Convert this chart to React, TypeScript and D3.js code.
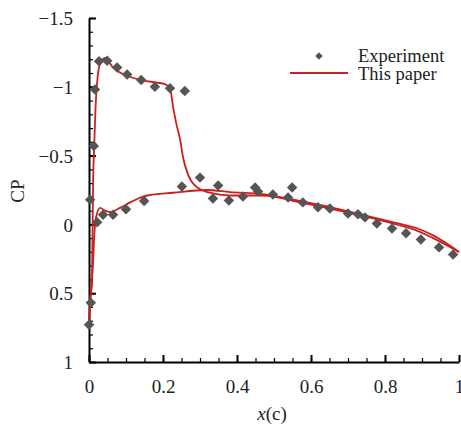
import React, { useEffect, useRef } from 'react';
import * as d3 from 'd3';

const width = 461;
const height = 426;
const margins = { top: 18, right: 2, bottom: 64, left: 89 };

// experiment points [x/c, Cp]
const experiment: [number, number][] = [
  [0.0, 0.73], [0.005, 0.57], [0.003, -0.18], [0.013, -0.57], [0.016, -0.98],
  [0.027, -1.185], [0.049, -1.19], [0.076, -1.14], [0.103, -1.09], [0.141, -1.05],
  [0.178, -1.0], [0.219, -0.99], [0.259, -0.97],
  [0.022, -0.015], [0.038, -0.07], [0.065, -0.07], [0.1, -0.11], [0.149, -0.17],
  [0.251, -0.276], [0.3, -0.34], [0.349, -0.283], [0.335, -0.189], [0.378, -0.174],
  [0.416, -0.203], [0.449, -0.269], [0.457, -0.24], [0.497, -0.218], [0.549, -0.269],
  [0.538, -0.196], [0.578, -0.16], [0.619, -0.124], [0.651, -0.116], [0.7, -0.08],
  [0.727, -0.073], [0.746, -0.051], [0.778, -0.007], [0.819, 0.029], [0.857, 0.065],
  [0.897, 0.109], [0.946, 0.167], [0.984, 0.218]
];

// computed upper surface
const upperX = [0, 0.003, 0.008, 0.011, 0.014, 0.019, 0.03, 0.043, 0.065, 0.103, 0.138, 0.184, 0.205, 0.219, 0.227, 0.237, 0.246, 0.254, 0.268, 0.292, 0.335, 0.381, 0.47, 0.57, 0.66, 0.751, 0.841, 0.886, 0.93, 1];
const upperCp = [0.72, 0.55, 0.43, -0.3, -0.56, -0.92, -1.17, -1.21, -1.14, -1.08, -1.05, -1.03, -1.02, -0.99, -0.86, -0.72, -0.62, -0.49, -0.36, -0.27, -0.225, -0.21, -0.21, -0.16, -0.11, -0.055, 0.008, 0.045, 0.1, 0.2];

// computed lower surface
const lowerX = [0, 0.005, 0.011, 0.014, 0.019, 0.03, 0.043, 0.057, 0.084, 0.111, 0.135, 0.157, 0.227, 0.319, 0.381, 0.47, 0.57, 0.66, 0.751, 0.841, 0.886, 0.93, 1];
const lowerCp = [0.72, 0.5, 0.28, 0.09, -0.05, -0.12, -0.1, -0.09, -0.12, -0.16, -0.19, -0.21, -0.23, -0.25, -0.235, -0.22, -0.17, -0.12, -0.062, -0.004, 0.028, 0.08, 0.2];

const xTicks = [0, 0.2, 0.4, 0.6, 0.8, 1];
const yTicks = [-1.5, -1, -0.5, 0, 0.5, 1];

const legendLabels = ['Experiment', 'This paper'];

const font = '"Liberation Serif", "Times New Roman", serif';
const red = '#cc1f1f';
const grey = '#555555';

export default function App() {
  const ref = useRef<SVGSVGElement>(null);

  useEffect(() => {
    const svg = d3.select(ref.current);
    svg.selectAll('*').remove();

    const x = d3.scaleLinear().domain([0, 1]).range([margins.left, width - margins.right]);
    const y = d3.scaleLinear().domain([-1.5, 1]).range([margins.top, height - margins.bottom]);

    const fmt = (d: d3.NumberValue) => String(d).replace('-', '\u2212');

    // minor ticks
    svg.append('g')
      .attr('transform', `translate(0,${y(1)})`)
      .call(d3.axisBottom(x).tickValues(d3.range(0, 21).map(i => i * 0.05)).tickSize(-4).tickFormat(() => ''))
      .call(g => g.select('.domain').remove())
      .selectAll('line').attr('stroke-width', 1.2);
    svg.append('g')
      .attr('transform', `translate(${x(0)},0)`)
      .call(d3.axisLeft(y).tickValues(d3.range(0, 26).map(i => -1.5 + i * 0.1)).tickSize(-4).tickFormat(() => ''))
      .call(g => g.select('.domain').remove())
      .selectAll('line').attr('stroke-width', 1.2);

    // major axes
    const xAxis = svg.append('g')
      .attr('transform', `translate(0,${y(1)})`)
      .call(d3.axisBottom(x).tickValues(xTicks).tickSizeInner(-7).tickSizeOuter(0).tickPadding(18).tickFormat(fmt));
    const yAxis = svg.append('g')
      .attr('transform', `translate(${x(0)},0)`)
      .call(d3.axisLeft(y).tickValues(yTicks).tickSizeInner(-7).tickSizeOuter(0).tickPadding(16).tickFormat(fmt));

    [xAxis, yAxis].forEach(g => {
      g.attr('font-family', font).attr('font-size', 19);
      g.select('.domain').attr('stroke-width', 2);
      g.selectAll('.tick line').attr('stroke-width', 2);
      g.selectAll('.tick text').attr('fill', '#222');
    });
    yAxis.selectAll('.tick text').attr('dy', '0.35em');

    // lines
    const line = d3.line<[number, number]>()
      .x(d => x(d[0]))
      .y(d => y(d[1]))
      .curve(d3.curveMonotoneX);

    const upper = upperX.map((v, i) => [v, upperCp[i]] as [number, number]);
    const lower = lowerX.map((v, i) => [v, lowerCp[i]] as [number, number]);

    svg.selectAll('.cfd')
      .data([lower, upper])
      .enter()
      .append('path')
      .attr('class', 'cfd')
      .attr('d', d => line(d))
      .attr('fill', 'none')
      .attr('stroke', red)
      .attr('stroke-width', 1.8);

    const diamond = d3.symbol().type(d3.symbolDiamond2).size(70);

    svg.selectAll('.dot')
      .data(experiment)
      .enter()
      .append('path')
      .attr('class', 'dot')
      .attr('d', diamond)
      .attr('transform', d => `translate(${x(d[0])},${y(d[1])})`)
      .attr('fill', grey);

    // legend
    const legend = svg.append('g').attr('font-family', font).attr('font-size', 18.5).attr('fill', '#222');
    legend.append('path')
      .attr('d', d3.symbol().type(d3.symbolDiamond2).size(36))
      .attr('transform', 'translate(319,56)')
      .attr('fill', grey);
    legend.append('line')
      .attr('x1', 290).attr('x2', 348).attr('y1', 73).attr('y2', 73)
      .attr('stroke', red).attr('stroke-width', 1.8);
    legend.selectAll('text')
      .data(legendLabels)
      .enter()
      .append('text')
      .attr('x', 358)
      .attr('y', (d, i) => 62 + i * 18)
      .text(d => d);

    // axis titles
    svg.append('text')
      .attr('transform', 'translate(24,191) rotate(-90)')
      .attr('text-anchor', 'middle')
      .attr('font-family', font)
      .attr('font-size', 19)
      .attr('fill', '#222')
      .text('CP');

    const xt = svg.append('text')
      .attr('x', 272)
      .attr('y', 420)
      .attr('text-anchor', 'middle')
      .attr('font-family', font)
      .attr('font-size', 19)
      .attr('fill', '#222');
    xt.append('tspan').attr('font-style', 'italic').text('x');
    xt.append('tspan').text('(c)');
  }, []);

  return (
    <svg
      ref={ref}
      width={width}
      height={height}
      style={{ position: 'absolute', left: 0, top: 0, background: '#fff' }}
    />
  );
}
